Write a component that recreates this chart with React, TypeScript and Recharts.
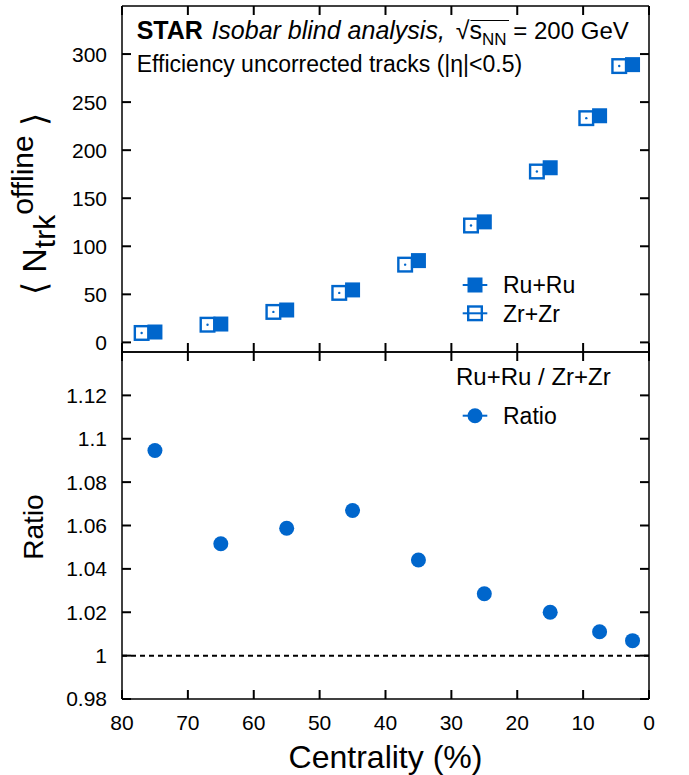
import React from "react";
import { ScatterChart, Scatter, XAxis, YAxis, ReferenceLine, Legend } from "recharts";

// centrality bin centres (%) and mean uncorrected track multiplicity
const centrality = [75, 65, 55, 45, 35, 25, 15, 7.5, 2.5];
const ruNtrk = [10.8, 19.1, 33.7, 54.6, 85.1, 125.4, 181.7, 235.8, 289.0];
const zrNtrk = [9.8, 18.4, 31.7, 51.5, 80.9, 121.6, 177.8, 233.3, 287.5];
const ratio = [1.0946, 1.0516, 1.0587, 1.0669, 1.0441, 1.0285, 1.02, 1.011, 1.0069];

const xTicks = [0, 10, 20, 30, 40, 50, 60, 70, 80];
const nTicks = [0, 50, 100, 150, 200, 250, 300];
const ratioTicks = [0.98, 1, 1.02, 1.04, 1.06, 1.08, 1.1, 1.12];
const legendOrder = ["Ru+Ru", "Zr+Zr"];

const ruRows = centrality.map((c, i) => ({ x: c, y: ruNtrk[i] }));
const zrRows = centrality.map((c, i) => ({ x: c, y: zrNtrk[i] }));
const ratioRows = centrality.map((c, i) => ({ x: c, y: ratio[i] }));

const BLUE = "#0066cc";
const ZR_SHIFT = 13.3; // Zr+Zr drawn slightly left of Ru+Ru for visibility
const TICK_LEN = 9;

const axisLine = { stroke: "#000", strokeWidth: 1.5 };

// inward tick marks, drawn by hand since recharts only draws them outward
const makeTick = (side: "l" | "r" | "t" | "b", withLabel = false) => (p: any) => {
  const v = p.payload ? p.payload.value : "";
  const dx = side === "l" ? TICK_LEN : side === "r" ? -TICK_LEN : 0;
  const dy = side === "t" ? TICK_LEN : side === "b" ? -TICK_LEN : 0;
  return (
    <g>
      <path d={`M${p.x},${p.y}L${p.x + dx},${p.y + dy}`} stroke="#000" strokeWidth={2} fill="none" />
      {withLabel && side === "l" && (
        <text x={p.x - 15} y={p.y} dy="0.355em" textAnchor="end" fontSize={21} fill="#000">
          {String(v)}
        </text>
      )}
      {withLabel && side === "b" && (
        <text x={p.x} y={p.y + 16} dy="0.71em" textAnchor="middle" fontSize={21} fill="#000">
          {String(v)}
        </text>
      )}
    </g>
  );
};

const FilledSquare = (p: any) => (
  <rect x={p.cx - 7.5} y={p.cy - 7.5} width={15} height={15} fill={BLUE} />
);

const OpenSquare = (p: any) => (
  <g>
    <rect x={p.cx - ZR_SHIFT - 6.8} y={p.cy - 6.8} width={13.6} height={13.6} fill="#fff" stroke={BLUE} strokeWidth={2.4} />
    <circle cx={p.cx - ZR_SHIFT} cy={p.cy} r={1.2} fill={BLUE} />
  </g>
);

const Dot = (p: any) => <circle cx={p.cx} cy={p.cy} r={7.5} fill={BLUE} />;

function LegendSymbol({ kind, cx, cy }: { kind: string; cx: number; cy: number }) {
  return (
    <g>
      <line x1={cx - 12.3} x2={cx + 12.3} y1={cy} y2={cy} stroke={BLUE} strokeWidth={2} />
      {kind === "Ru+Ru" && <rect x={cx - 7.5} y={cy - 7.5} width={15} height={15} fill={BLUE} />}
      {kind === "Zr+Zr" && (
        <rect x={cx - 6.8} y={cy - 6.8} width={13.6} height={13.6} fill="none" stroke={BLUE} strokeWidth={2.4} />
      )}
      {kind === "Ratio" && <circle cx={cx} cy={cy} r={7.5} fill={BLUE} />}
    </g>
  );
}

const topLegend = (props: any) => {
  const items = [...(props.payload || [])].sort(
    (a: any, b: any) => legendOrder.indexOf(a.value) - legendOrder.indexOf(b.value)
  );
  return (
    <svg width={190} height={70}>
      {items.map((it: any, i: number) => (
        <g key={it.value}>
          <LegendSymbol kind={it.value} cx={35} cy={23 + i * 28.3} />
          <text x={63} y={23 + i * 28.3} dy="0.36em" fontSize={23} fill="#000">
            {it.value}
          </text>
        </g>
      ))}
    </svg>
  );
};

const bottomLegend = (props: any) => {
  const items = props.payload || [];
  return (
    <svg width={220} height={75}>
      <text x={16} y={23.7} fontSize={24} fill="#000">Ru+Ru / Zr+Zr</text>
      {items.map((it: any) => (
        <g key={it.value}>
          <LegendSymbol kind={it.value} cx={35} cy={54.7} />
          <text x={63} y={54.7} dy="0.36em" fontSize={23} fill="#000">
            {it.value}
          </text>
        </g>
      ))}
    </svg>
  );
};

const nLabel = () => (
  <text transform="translate(46,204) rotate(-90)" textAnchor="middle" fontSize={34} fill="#000">
    ⟨ N
    <tspan fontSize={30} dy={9}>trk</tspan>
    <tspan fontSize={30} dy={-22}>offline</tspan>
    <tspan dy={13}> ⟩</tspan>
  </text>
);

const ratioLabel = () => (
  <text transform="translate(43,176) rotate(-90)" textAnchor="middle" fontSize={28} fill="#000">
    Ratio
  </text>
);

const xLabel = () => (
  <text x={385.5} y={416.7} textAnchor="middle" fontSize={32} fill="#000">
    Centrality (%)
  </text>
);

const axisCommon = { allowDataOverflow: true, interval: 0 as const, tickSize: 0, tickMargin: 0, tickLine: false, axisLine };

export default function App() {
  return (
    <div style={{ position: "absolute", left: 0, top: 0, width: 689, height: 775, background: "#fff", fontFamily: "'Liberation Sans', Arial, sans-serif" }}>
      <div style={{ position: "absolute", left: 0, top: 0 }}>
        <ScatterChart width={689} height={353} margin={{ top: 5, right: 39, bottom: 0, left: 121 }}>
          <XAxis xAxisId="b" type="number" dataKey="x" domain={[0, 80]} ticks={xTicks} reversed height={1}
            {...axisCommon} tick={makeTick("b")} />
          <XAxis xAxisId="t" orientation="top" type="number" dataKey="x" domain={[0, 80]} ticks={xTicks} reversed height={1}
            {...axisCommon} tick={makeTick("t")} />
          <YAxis yAxisId="l" type="number" dataKey="y" domain={[-10, 350]} ticks={nTicks} width={1}
            {...axisCommon} tick={makeTick("l", true)} label={nLabel} />
          <YAxis yAxisId="r" orientation="right" type="number" dataKey="y" domain={[-10, 350]} ticks={nTicks} width={1}
            {...axisCommon} tick={makeTick("r")} />
          <Scatter xAxisId="b" yAxisId="l" name="Zr+Zr" data={zrRows} fill={BLUE} shape={OpenSquare} isAnimationActive={false} />
          <Scatter xAxisId="b" yAxisId="l" name="Ru+Ru" data={ruRows} fill={BLUE} shape={FilledSquare} isAnimationActive={false} />
          <Legend layout="vertical" align="center" verticalAlign="middle" content={topLegend}
            wrapperStyle={{ left: 440, top: 262, width: 190, height: 70 }} />
          <text x={136.7} y={39.3} fontSize={25} fill="#000">
            <tspan fontWeight="bold">STAR</tspan>
            <tspan fontStyle="italic" dx={8.5}>Isobar blind analysis,</tspan>
            <tspan dx={11}>√</tspan>
            <tspan>s</tspan>
            <tspan fontSize={17} dy={6}>NN</tspan>
            <tspan fontSize={24} dy={-6}> = 200 GeV</tspan>
          </text>
          <line x1={470.5} x2={509} y1={20.5} y2={20.5} stroke="#000" strokeWidth={1.2} />
          <text x={136.7} y={71.7} fontSize={23} fill="#000">
            Efficiency uncorrected tracks (|η|&lt;0.5)
          </text>
        </ScatterChart>
      </div>
      <div style={{ position: "absolute", left: 0, top: 351 }}>
        <ScatterChart width={689} height={424} margin={{ top: 0, right: 39, bottom: 0, left: 121 }}>
          <XAxis xAxisId="b" type="number" dataKey="x" domain={[0, 80]} ticks={xTicks} reversed height={76}
            {...axisCommon} tick={makeTick("b", true)} label={xLabel} />
          <XAxis xAxisId="t" orientation="top" type="number" dataKey="x" domain={[0, 80]} ticks={xTicks} reversed height={1}
            {...axisCommon} tick={makeTick("t")} />
          <YAxis yAxisId="l" type="number" dataKey="y" domain={[0.98, 1.14]} ticks={ratioTicks} width={1}
            {...axisCommon} tick={makeTick("l", true)} label={ratioLabel} />
          <YAxis yAxisId="r" orientation="right" type="number" dataKey="y" domain={[0.98, 1.14]} ticks={ratioTicks} width={1}
            {...axisCommon} tick={makeTick("r")} />
          <ReferenceLine xAxisId="b" yAxisId="l" y={1} stroke="#000" strokeWidth={2} strokeDasharray="5 4" />
          <Scatter xAxisId="b" yAxisId="l" name="Ratio" data={ratioRows} fill={BLUE} shape={Dot} isAnimationActive={false} />
          <Legend layout="vertical" align="center" verticalAlign="middle" content={bottomLegend}
            wrapperStyle={{ left: 440, top: 10, width: 220, height: 75 }} />
        </ScatterChart>
      </div>
    </div>
  );
}
